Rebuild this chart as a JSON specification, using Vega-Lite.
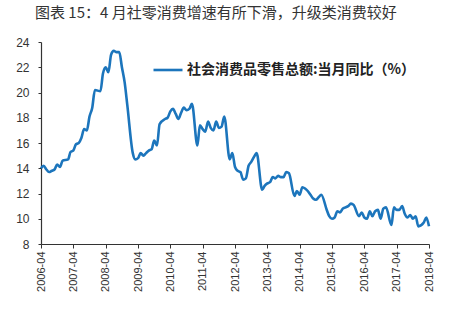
{
  "$schema": "https://vega.github.io/schema/vega-lite/v6.json",
  "autosize": "none",
  "width": 388,
  "height": 202,
  "padding": {"left": 41, "top": 42, "right": 39, "bottom": 69},
  "background": "white",
  "config": {"view": {"stroke": null}, "font": "Liberation Sans"},
  "title": {
    "text": "图表 15：4 月社零消费增速有所下滑，升级类消费较好",
    "anchor": "start",
    "frame": "group",
    "dx": -6,
    "dy": 17,
    "offset": 17,
    "baseline": "bottom",
    "font": "Noto Sans CJK SC",
    "fontSize": 15,
    "fontWeight": "normal",
    "color": "#333333"
  },
  "data": {"values": [
    {"date": "2006-04-01", "v": 14.0}, {"date": "2006-05-01", "v": 14.2}, {"date": "2006-06-01", "v": 13.9},
    {"date": "2006-07-01", "v": 13.7}, {"date": "2006-08-01", "v": 13.8}, {"date": "2006-09-01", "v": 13.9},
    {"date": "2006-10-01", "v": 14.3}, {"date": "2006-11-01", "v": 14.1}, {"date": "2006-12-01", "v": 14.6},
    {"date": "2007-02-01", "v": 14.7}, {"date": "2007-03-01", "v": 15.3}, {"date": "2007-04-01", "v": 15.4},
    {"date": "2007-05-01", "v": 15.9}, {"date": "2007-06-01", "v": 16.0}, {"date": "2007-07-01", "v": 16.4},
    {"date": "2007-08-01", "v": 17.1}, {"date": "2007-09-01", "v": 17.0}, {"date": "2007-10-01", "v": 18.1},
    {"date": "2007-11-01", "v": 18.8}, {"date": "2007-12-01", "v": 20.2},
    {"date": "2008-02-01", "v": 20.1}, {"date": "2008-03-01", "v": 21.5}, {"date": "2008-04-01", "v": 22.0},
    {"date": "2008-05-01", "v": 21.6}, {"date": "2008-06-01", "v": 23.0}, {"date": "2008-07-01", "v": 23.3},
    {"date": "2008-08-01", "v": 23.2}, {"date": "2008-09-01", "v": 23.2}, {"date": "2008-10-01", "v": 22.0},
    {"date": "2008-11-01", "v": 20.8}, {"date": "2008-12-01", "v": 19.0},
    {"date": "2009-02-01", "v": 15.2}, {"date": "2009-03-01", "v": 14.7}, {"date": "2009-04-01", "v": 14.8},
    {"date": "2009-05-01", "v": 15.2}, {"date": "2009-06-01", "v": 15.0}, {"date": "2009-07-01", "v": 15.2},
    {"date": "2009-08-01", "v": 15.4}, {"date": "2009-09-01", "v": 15.5}, {"date": "2009-10-01", "v": 16.2},
    {"date": "2009-11-01", "v": 15.8}, {"date": "2009-12-01", "v": 17.5},
    {"date": "2010-02-01", "v": 17.9}, {"date": "2010-03-01", "v": 18.0}, {"date": "2010-04-01", "v": 18.5},
    {"date": "2010-05-01", "v": 18.7}, {"date": "2010-06-01", "v": 18.3}, {"date": "2010-07-01", "v": 17.9},
    {"date": "2010-08-01", "v": 18.4}, {"date": "2010-09-01", "v": 18.8}, {"date": "2010-10-01", "v": 18.6},
    {"date": "2010-11-01", "v": 18.7}, {"date": "2010-12-01", "v": 19.1},
    {"date": "2011-02-01", "v": 15.8}, {"date": "2011-03-01", "v": 17.4}, {"date": "2011-04-01", "v": 17.1},
    {"date": "2011-05-01", "v": 16.9}, {"date": "2011-06-01", "v": 17.7}, {"date": "2011-07-01", "v": 17.2},
    {"date": "2011-08-01", "v": 17.0}, {"date": "2011-09-01", "v": 17.7}, {"date": "2011-10-01", "v": 17.2},
    {"date": "2011-11-01", "v": 17.3}, {"date": "2011-12-01", "v": 18.1},
    {"date": "2012-02-01", "v": 14.7}, {"date": "2012-03-01", "v": 15.2}, {"date": "2012-04-01", "v": 14.1},
    {"date": "2012-05-01", "v": 13.8}, {"date": "2012-06-01", "v": 13.7}, {"date": "2012-07-01", "v": 13.1},
    {"date": "2012-08-01", "v": 13.2}, {"date": "2012-09-01", "v": 14.2}, {"date": "2012-10-01", "v": 14.5},
    {"date": "2012-11-01", "v": 14.9}, {"date": "2012-12-01", "v": 15.2},
    {"date": "2013-02-01", "v": 12.3}, {"date": "2013-03-01", "v": 12.6}, {"date": "2013-04-01", "v": 12.8},
    {"date": "2013-05-01", "v": 12.9}, {"date": "2013-06-01", "v": 13.3}, {"date": "2013-07-01", "v": 13.2},
    {"date": "2013-08-01", "v": 13.4}, {"date": "2013-09-01", "v": 13.3}, {"date": "2013-10-01", "v": 13.3},
    {"date": "2013-11-01", "v": 13.7}, {"date": "2013-12-01", "v": 13.6},
    {"date": "2014-02-01", "v": 11.8}, {"date": "2014-03-01", "v": 12.2}, {"date": "2014-04-01", "v": 11.9},
    {"date": "2014-05-01", "v": 12.5}, {"date": "2014-06-01", "v": 12.4}, {"date": "2014-07-01", "v": 12.2},
    {"date": "2014-08-01", "v": 11.9}, {"date": "2014-09-01", "v": 11.6}, {"date": "2014-10-01", "v": 11.5},
    {"date": "2014-11-01", "v": 11.7}, {"date": "2014-12-01", "v": 11.9},
    {"date": "2015-02-01", "v": 10.7}, {"date": "2015-03-01", "v": 10.2}, {"date": "2015-04-01", "v": 10.0},
    {"date": "2015-05-01", "v": 10.1}, {"date": "2015-06-01", "v": 10.6}, {"date": "2015-07-01", "v": 10.5},
    {"date": "2015-08-01", "v": 10.8}, {"date": "2015-09-01", "v": 10.9}, {"date": "2015-10-01", "v": 11.0},
    {"date": "2015-11-01", "v": 11.2}, {"date": "2015-12-01", "v": 11.1},
    {"date": "2016-02-01", "v": 10.2}, {"date": "2016-03-01", "v": 10.5}, {"date": "2016-04-01", "v": 10.1},
    {"date": "2016-05-01", "v": 10.0}, {"date": "2016-06-01", "v": 10.6}, {"date": "2016-07-01", "v": 10.2},
    {"date": "2016-08-01", "v": 10.6}, {"date": "2016-09-01", "v": 10.7}, {"date": "2016-10-01", "v": 10.0},
    {"date": "2016-11-01", "v": 10.8}, {"date": "2016-12-01", "v": 10.9},
    {"date": "2017-02-01", "v": 9.5}, {"date": "2017-03-01", "v": 10.9}, {"date": "2017-04-01", "v": 10.7},
    {"date": "2017-05-01", "v": 10.7}, {"date": "2017-06-01", "v": 11.0}, {"date": "2017-07-01", "v": 10.4},
    {"date": "2017-08-01", "v": 10.1}, {"date": "2017-09-01", "v": 10.3}, {"date": "2017-10-01", "v": 10.0},
    {"date": "2017-11-01", "v": 10.2}, {"date": "2017-12-01", "v": 9.4},
    {"date": "2018-02-01", "v": 9.7}, {"date": "2018-03-01", "v": 10.1}, {"date": "2018-04-01", "v": 9.4}
  ]},
  "mark": {"type": "line", "strokeWidth": 2.6, "clip": false, "interpolate": "monotone"},
  "encoding": {
    "x": {
      "field": "date", "type": "temporal",
      "scale": {"type": "utc", "domain": [{"year": 2006, "month": 4, "date": 1, "utc": true}, {"year": 2018, "month": 4, "date": 1, "utc": true}]},
      "axis": {
        "title": null,
        "values": [
          {"year": 2006, "month": 4, "date": 1, "utc": true}, {"year": 2007, "month": 4, "date": 1, "utc": true},
          {"year": 2008, "month": 4, "date": 1, "utc": true}, {"year": 2009, "month": 4, "date": 1, "utc": true},
          {"year": 2010, "month": 4, "date": 1, "utc": true}, {"year": 2011, "month": 4, "date": 1, "utc": true},
          {"year": 2012, "month": 4, "date": 1, "utc": true}, {"year": 2013, "month": 4, "date": 1, "utc": true},
          {"year": 2014, "month": 4, "date": 1, "utc": true}, {"year": 2015, "month": 4, "date": 1, "utc": true},
          {"year": 2016, "month": 4, "date": 1, "utc": true}, {"year": 2017, "month": 4, "date": 1, "utc": true},
          {"year": 2018, "month": 4, "date": 1, "utc": true}
        ],
        "format": "%Y-%m",
        "labelAngle": -90,
        "labelAlign": "right",
        "labelBaseline": "middle",
        "labelFontSize": 11,
        "labelColor": "#333333",
        "labelPadding": 3,
        "labelOverlap": false,
        "labelFlush": false,
        "grid": false,
        "domainColor": "#333333",
        "domainWidth": 1.2,
        "tickColor": "#333333",
        "tickSize": 4
      }
    },
    "y": {
      "field": "v", "type": "quantitative",
      "scale": {"domain": [8, 24], "nice": false, "zero": false},
      "axis": {
        "title": null,
        "values": [8, 10, 12, 14, 16, 18, 20, 22, 24],
        "labelFontSize": 12,
        "labelColor": "#333333",
        "labelPadding": 9,
        "grid": false,
        "domainColor": "#333333",
        "domainWidth": 1.2,
        "tickColor": "#333333",
        "tickSize": 3
      }
    },
    "color": {
      "datum": "社会消费品零售总额:当月同比（%）",
      "type": "nominal",
      "scale": {"range": ["#1c75bc"]},
      "legend": {
        "title": null,
        "orient": "none",
        "legendX": 111,
        "legendY": 12,
        "symbolType": "stroke",
        "symbolSize": 841,
        "symbolStrokeWidth": 2.6,
        "labelFont": "Noto Sans CJK SC",
        "labelFontSize": 14,
        "labelFontWeight": "bold",
        "labelColor": "#222222",
        "labelLimit": 400,
        "labelOffset": 3
      }
    }
  }
}
